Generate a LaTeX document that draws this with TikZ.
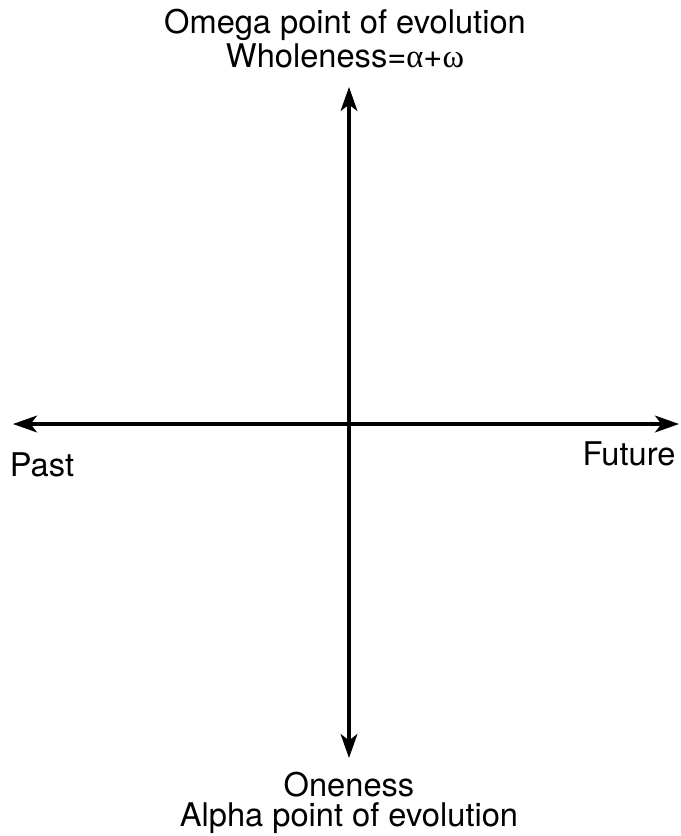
\documentclass[tikz,border=0pt]{standalone}
\usepackage{fontspec}
\setmainfont{TeX Gyre Heros}
\newfontfamily\grk{Liberation Serif}
\usetikzlibrary{arrows.meta}
\begin{document}
\begin{tikzpicture}[x=0.025cm, y=-0.025cm,
    axis/.style={line width=2.2pt, {Stealth[length=0.6cm, width=0.42cm, inset=0.16cm]}-{Stealth[length=0.6cm, width=0.42cm, inset=0.16cm]}},
    lbl/.style={anchor=base, inner sep=0pt, font=\fontsize{23.2}{28}\selectfont}]
    \useasboundingbox (0,0) rectangle (680,836);

    \coordinate (west)  at (13,424);
    \coordinate (east)  at (679,424);
    \coordinate (north) at (349,87);
    \coordinate (south) at (349,758);

    \node[lbl] (omega)  at (345,33)  {Omega point of evolution};
    \node[lbl] (whole)  at (345,67)  {Wholeness={\grk α}+{\grk ω}};
    \node[lbl] (past)   at (42,476)  {Past};
    \node[lbl] (future) at (629,465) {Future};
    \node[lbl] (one)    at (349,796) {Oneness};
    \node[lbl] (alpha)  at (349,826) {Alpha point of evolution};

    \draw[axis] (west) -- (east);
    \draw[axis] (south) -- (north);
\end{tikzpicture}
\end{document}
